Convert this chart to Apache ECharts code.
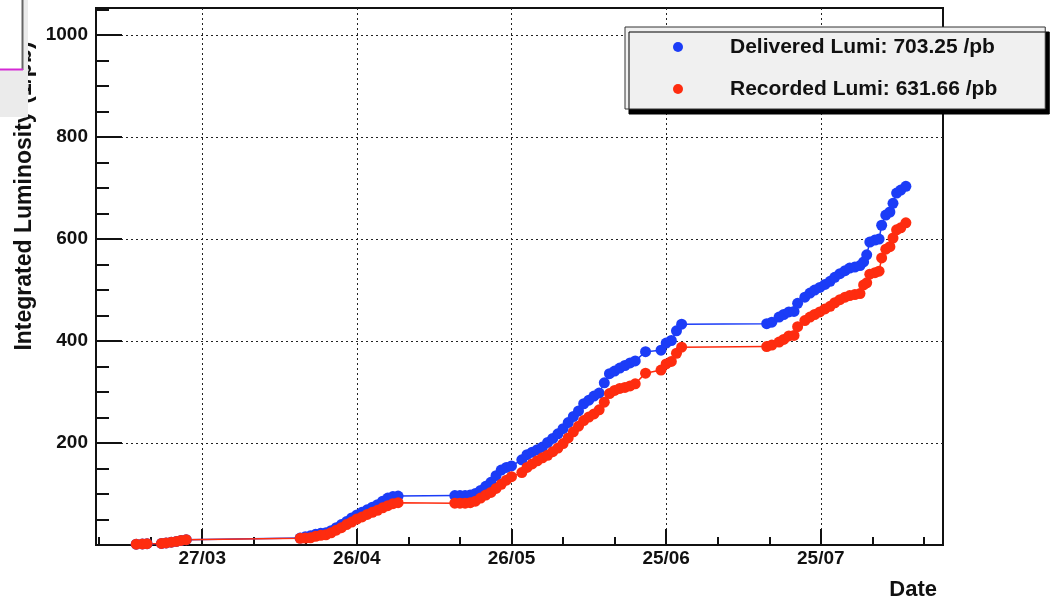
<!DOCTYPE html>
<html>
<head>
<meta charset="utf-8">
<script src="https://cdn.jsdelivr.net/npm/echarts@6/dist/echarts.min.js"></script>
<style>
  html, body { margin: 0; padding: 0; background: #ffffff; }
  #chart { width: 1050px; height: 602px; }
</style>
</head>
<body>
<div id="chart"></div>
<script>
// Cumulative integrated luminosity per fill, 2011 run.
// Fill time given as day of year (1 January = day 0).
const fillDay = [
  72.2, 73.4, 74.3, 77.1, 78.0, 79.0, 80.0, 80.9, 81.9,
  104, 105, 106, 107, 108, 109, 110, 111, 112, 113,
  114, 115, 116, 117, 118, 119, 120, 121, 122, 123,
  134, 135, 136, 137, 138, 139, 140, 141, 142, 143, 144, 145,
  147, 148, 149, 150, 151, 152, 153, 154, 155, 156, 157, 158,
  159, 160, 161, 162, 163, 164, 165, 166, 167, 168, 169,
  171, 174, 175, 176, 177, 178,
  194.5, 195.5, 196.9, 197.8, 198.8, 199.8, 200.5, 201.9, 202.9, 203.8,
  204.8, 205.8, 206.8, 207.7, 208.7, 209.7, 210.6, 211.6, 212.6, 213.3,
  213.9, 214.5, 215.5, 216.3, 216.8, 217.6, 218.4, 219.0, 219.7, 220.5,
  221.5
];

// Delivered luminosity (/pb)
const delivered = [
  1.5, 2, 2.5, 3, 4, 5.5, 7, 9, 10.5,
  13.5, 16, 18, 21, 23, 24, 28, 34, 40, 46,
  53, 59, 64, 69, 74, 79, 86, 92, 95, 96,
  97, 97, 97, 98, 101, 107, 115, 123, 136, 147, 152, 155,
  167, 177, 182, 187, 192, 201, 209, 218, 228, 240, 252, 263,
  277, 284, 292, 298, 318, 336, 341, 347, 352, 357, 361,
  379, 382, 396, 401, 420, 433,
  434, 437, 447, 452, 457, 458, 474, 486, 494, 500,
  505, 511, 517, 525, 532, 538, 543, 545, 548, 555,
  569, 594, 598, 600, 627, 647, 653, 670, 690, 696,
  703.25
];

// Recorded luminosity (/pb)
const recorded = [
  1.5, 2, 2.5, 3, 4, 5.5, 7, 9, 10.5,
  13, 13.5, 14, 17, 19, 20, 24, 29, 34, 40,
  45, 51, 55, 60, 64, 68, 73, 77, 81, 83,
  82, 82, 82, 83, 86, 92, 98, 103, 111, 119, 127, 134,
  142, 152, 159, 165, 171, 176, 183, 190, 199, 210, 222, 233,
  244, 251, 257, 265, 280, 297, 303, 307, 309, 312, 316,
  337, 343, 355, 360, 376, 388,
  389, 392, 398, 403, 410, 411, 428, 440, 447, 452,
  457, 463, 468, 475, 481, 486, 489, 491, 493, 510,
  514, 531, 534, 537, 563, 580, 585, 602, 618, 622,
  631.66
];

const dateTickLabels = ['27/03', '26/04', '26/05', '25/06', '25/07'];
const lumiTickValues = [200, 400, 600, 800, 1000];

const YEAR = 2011;
const FONT = '"Liberation Sans", Arial, Helvetica, sans-serif';
const BLUE = '#1b3cf7';
const RED = '#fe2c0f';
const INK = '#111111';

function dayOfYear(label) {
  const [d, m] = label.split('/').map(Number);
  return (Date.UTC(YEAR, m - 1, d) - Date.UTC(YEAR, 0, 1)) / 86400000;
}

const xMin = 64.4, xMax = 228.7;
const yMin = 0, yMax = 1053;

// Major date ticks every 30 days, minor ones every 10 days
const majorDays = dateTickLabels.map(dayOfYear);
const minorDays = [];
for (let d = majorDays[0] - 20; d <= xMax; d += 10) minorDays.push(d);
// Minor luminosity ticks every 50 /pb
const minorLumi = [];
for (let v = 50; v <= yMax; v += 50) minorLumi.push(v);

const dotted = { type: [2, 3], color: '#222', width: 1 };
const labelFont = { fontFamily: FONT, fontWeight: 'bold', fontSize: 19, color: INK };

const chart = echarts.init(document.getElementById('chart'), null, { renderer: 'canvas' });

chart.setOption({
  animation: false,
  backgroundColor: '#ffffff',
  grid: {
    left: 96, right: 107, top: 8, bottom: 57,
    show: true, borderColor: INK, borderWidth: 2, backgroundColor: 'transparent'
  },
  legend: {
    orient: 'vertical',
    left: 625, top: 27,
    padding: [8, 48, 8, 48],
    itemWidth: 10, itemHeight: 10, itemGap: 18,
    icon: 'circle',
    backgroundColor: '#f0f0f0',
    borderColor: '#333', borderWidth: 1, borderRadius: 0,
    shadowColor: '#000', shadowBlur: 0, shadowOffsetX: 4, shadowOffsetY: 5,
    selectedMode: false,
    textStyle: {
      fontFamily: FONT, fontWeight: 'bold', fontSize: 21, color: INK,
      lineHeight: 24, padding: [0, 0, 0, 42]
    },
    formatter: function (name) {
      const values = name.indexOf('Delivered') === 0 ? delivered : recorded;
      return name + ': ' + values[values.length - 1].toFixed(2) + ' /pb';
    },
    data: ['Delivered Lumi', 'Recorded Lumi']
  },
  xAxis: [
    {
      type: 'value', min: xMin, max: xMax, position: 'bottom',
      name: 'Date', nameLocation: 'end', nameGap: -6,
      nameTextStyle: {
        fontFamily: FONT, fontWeight: 'bold', fontSize: 22, color: INK,
        align: 'right', verticalAlign: 'top', padding: [34, 0, 0, 0]
      },
      axisLine: { show: true, lineStyle: { color: INK, width: 2 } },
      axisTick: { show: true, inside: true, length: 16, customValues: majorDays,
                  lineStyle: { color: INK, width: 2 } },
      axisLabel: Object.assign({ customValues: majorDays, margin: 4,
        formatter: v => dateTickLabels[majorDays.indexOf(v)] || '' }, labelFont),
      splitLine: { show: true, lineStyle: dotted }
    },
    {
      type: 'value', min: xMin, max: xMax, position: 'bottom',
      axisLine: { show: false },
      axisTick: { show: true, inside: true, length: 8, customValues: minorDays,
                  lineStyle: { color: INK, width: 2 } },
      axisLabel: { show: false },
      splitLine: { show: false }
    }
  ],
  yAxis: [
    {
      type: 'value', min: yMin, max: yMax, position: 'left',
      axisLine: { show: true, lineStyle: { color: INK, width: 2 } },
      axisTick: { show: true, inside: true, length: 26, customValues: [0].concat(lumiTickValues),
                  lineStyle: { color: INK, width: 2 } },
      axisLabel: Object.assign({ customValues: lumiTickValues, margin: 8,
        formatter: v => String(v) }, labelFont),
      splitLine: { show: true, lineStyle: dotted }
    },
    {
      type: 'value', min: yMin, max: yMax, position: 'left',
      axisLine: { show: false },
      axisTick: { show: true, inside: true, length: 13, customValues: minorLumi,
                  lineStyle: { color: INK, width: 2 } },
      axisLabel: { show: false },
      splitLine: { show: false }
    }
  ],
  series: [
    {
      name: 'Delivered Lumi', type: 'line', xAxisIndex: 0, yAxisIndex: 0,
      data: fillDay.map((d, i) => [d, delivered[i]]),
      symbol: 'circle', symbolSize: 11, showAllSymbol: true,
      itemStyle: { color: BLUE },
      lineStyle: { color: BLUE, width: 1.5 },
      emphasis: { disabled: true }
    },
    {
      name: 'Recorded Lumi', type: 'line', xAxisIndex: 0, yAxisIndex: 0,
      data: fillDay.map((d, i) => [d, recorded[i]]),
      symbol: 'circle', symbolSize: 11, showAllSymbol: true,
      itemStyle: { color: RED },
      lineStyle: { color: RED, width: 1.5 },
      emphasis: { disabled: true }
    }
  ],
  graphic: [
    {
      type: 'text', x: 25, y: 196, rotation: Math.PI / 2, z: 5,
      style: {
        text: 'Integrated Luminosity (1/pb)',
        font: 'bold 23px ' + FONT, fill: INK,
        textAlign: 'center', textVerticalAlign: 'middle'
      }
    },
    // window fragment over the upper left corner
    { type: 'rect', z: 20, shape: { x: 0, y: 0, width: 28, height: 117 }, style: { fill: '#ebebeb' } },
    { type: 'rect', z: 21, shape: { x: 0, y: 0, width: 22, height: 69 }, style: { fill: '#ffffff' } },
    { type: 'line', z: 22, shape: { x1: 22.5, y1: 0, x2: 22.5, y2: 70 }, style: { stroke: '#666', lineWidth: 2 } },
    { type: 'line', z: 22, shape: { x1: 0, y1: 69.5, x2: 23, y2: 69.5 }, style: { stroke: '#d42ad4', lineWidth: 2 } }
  ]
});
</script>
</body>
</html>
